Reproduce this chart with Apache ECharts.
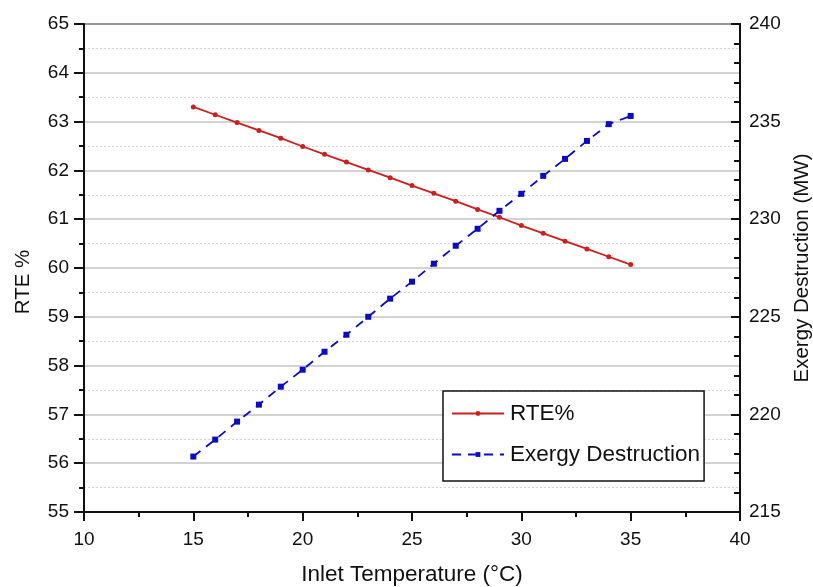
<!DOCTYPE html>
<html>
<head>
<meta charset="utf-8">
<script src="https://cdn.jsdelivr.net/npm/echarts@6/dist/echarts.min.js"></script>
<style>
  html, body { margin: 0; padding: 0; background: #fff; }
  #chart { width: 813px; height: 587px; }
</style>
</head>
<body>
<div id="chart"></div>
<script>
// inlet temperature (°C)
const temps = [15, 16, 17, 18, 19, 20, 21, 22, 23, 24, 25, 26, 27, 28, 29, 30, 31, 32, 33, 34, 35]
// round trip efficiency (%)
const rte = [63.30, 63.14, 62.98, 62.82, 62.66, 62.49, 62.33, 62.17, 62.01, 61.85, 61.69,
             61.53, 61.37, 61.20, 61.04, 60.87, 60.71, 60.55, 60.39, 60.23, 60.07]
// exergy destruction (MW)
const exergy = [217.84, 218.71, 219.63, 220.50, 221.42, 222.29, 223.21, 224.08, 225.00, 225.93, 226.80,
                227.72, 228.64, 229.51, 230.43, 231.30, 232.22, 233.09, 234.01, 234.87, 235.29]

const font = 'Arial, "Liberation Sans", sans-serif'
const black = '#111'

function pairs(ys){
    let out = []
    for(let i=0;i<temps.length;i++)
        out.push([temps[i], ys[i]])
    return out
}

let option = {
    animation: false,
    textStyle: { fontFamily: font },
    grid: {
        left: 84, right: 73, top: 24, bottom: 75,
        outerBoundsMode: 'none',
        containLabel: false,
        show: true,
        borderColor: black,
        borderWidth: 2
    },
    legend: {
        orient: 'vertical',
        left: 443,
        top: 391,
        width: 263,
        padding: [11, 4, 15, 8],
        itemGap: 18,
        itemWidth: 52,
        itemHeight: 6,
        borderColor: black,
        borderWidth: 1.5,
        backgroundColor: '#fff',
        textStyle: { fontSize: 22.5, color: black, fontFamily: font, padding: [0, 0, 0, 1] },
        data: ['RTE%', 'Exergy Destruction']
    },
    xAxis: {
        type: 'value',
        min: 10, max: 40, interval: 5,
        name: 'Inlet Temperature (°C)',
        nameLocation: 'middle',
        nameGap: 51,
        nameTextStyle: { fontSize: 22.5, color: black },
        axisLine: { show: true, lineStyle: { color: black, width: 2 } },
        axisTick: { show: true, length: 9, lineStyle: { color: black, width: 2 } },
        minorTick: { show: true, splitNumber: 2, length: 5, lineStyle: { color: black, width: 2 } },
        axisLabel: { fontSize: 19, color: black, margin: 18 },
        splitLine: { show: false }
    },
    yAxis: [
        {
            type: 'value',
            min: 55, max: 65, interval: 1,
            name: 'RTE %',
            nameLocation: 'middle',
            nameGap: 50,
            nameTextStyle: { fontSize: 20.5, color: black, padding: [0, 28, 0, 0] },
            axisLine: { show: true, lineStyle: { color: black, width: 2 } },
            axisTick: { show: true, length: 10, lineStyle: { color: black, width: 2 } },
            minorTick: { show: true, splitNumber: 2, length: 5, lineStyle: { color: black, width: 2 } },
            axisLabel: { fontSize: 19, color: black, margin: 15 },
            splitLine: { show: true, lineStyle: { color: '#c4c4c4', width: 1.5 } },
            minorSplitLine: { show: true, lineStyle: { color: '#d4d4d4', width: 1, type: [2, 2] } }
        },
        {
            type: 'value',
            min: 215, max: 240, interval: 5,
            name: 'Exergy Destruction (MW)',
            nameLocation: 'middle',
            nameGap: 51,
            nameTextStyle: { fontSize: 20.5, color: black },
            axisLine: { show: true, lineStyle: { color: black, width: 2 } },
            axisTick: { show: true, inside: true, length: 9, lineStyle: { color: black, width: 2 } },
            minorTick: { show: true, splitNumber: 5, length: 6, lineStyle: { color: black, width: 2 } },
            axisLabel: { fontSize: 19, color: black, margin: 9 },
            splitLine: { show: false }
        }
    ],
    series: [
        {
            name: 'RTE%',
            type: 'line',
            yAxisIndex: 0,
            data: pairs(rte),
            symbol: 'circle',
            symbolSize: 5,
            itemStyle: { color: '#cc1f1f' },
            lineStyle: { color: '#cc1f1f', width: 1.8 }
        },
        {
            name: 'Exergy Destruction',
            type: 'line',
            yAxisIndex: 1,
            data: pairs(exergy),
            symbol: 'rect',
            symbolSize: 6,
            itemStyle: { color: '#0a0ac8' },
            lineStyle: { color: '#0a0ac8', width: 1.8, type: [9, 7] }
        }
    ]
}

let chartDom = echarts.init(document.querySelector('#chart'))
chartDom.setOption(option)
</script>
</body>
</html>
